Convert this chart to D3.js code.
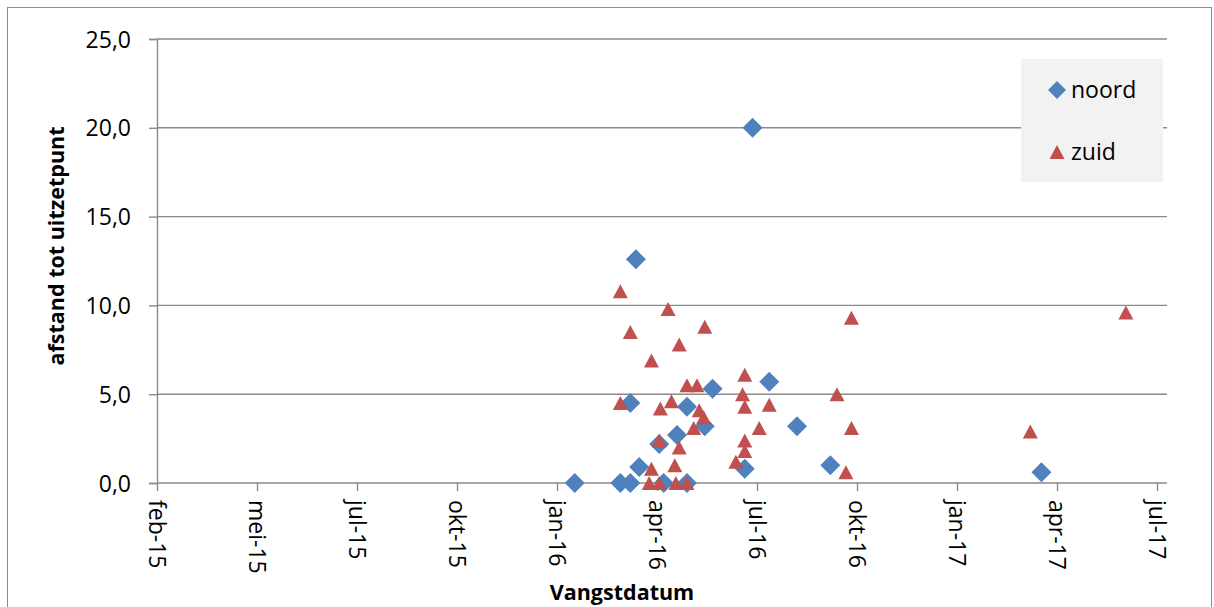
<!DOCTYPE html>
<html>
<head>
<meta charset="utf-8">
<script src="https://cdn.jsdelivr.net/npm/d3@7"></script>
<style>
  html, body { margin: 0; padding: 0; background: #fff; }
  svg { display: block; }
  text { font-family: "Open Sans", "Noto Sans", sans-serif; fill: #000; }
</style>
</head>
<body>
<svg id="chart" width="1214" height="607"></svg>
<script>
// Vangstdatum (catch date) and distance to release point, per side
const noordDates = ["2016-02-12","2016-03-24","2016-04-02","2016-04-02","2016-04-07","2016-04-10",
  "2016-04-28","2016-05-02","2016-05-14","2016-05-23","2016-05-23","2016-06-08","2016-06-15",
  "2016-07-14","2016-07-21","2016-08-05","2016-08-30","2016-09-29","2017-04-07"];
const noordValues = [0.0, 0.0, 0.0, 4.5, 12.6, 0.9, 2.2, 0.0, 2.7, 0.0, 4.3, 3.2, 5.3,
  0.8, 20.0, 5.7, 3.2, 1.0, 0.6];

const zuidDates = ["2016-03-24","2016-05-06","2016-04-02","2016-06-08","2016-05-16","2016-04-21",
  "2016-05-23","2016-06-01","2016-03-24","2016-04-29","2016-05-09","2016-06-03","2016-06-07",
  "2016-05-29","2016-04-28","2016-05-16","2016-04-21","2016-05-12","2016-04-19","2016-04-28",
  "2016-05-13","2016-05-23","2016-07-14","2016-07-12","2016-07-14","2016-08-05","2016-07-27",
  "2016-07-14","2016-07-14","2016-07-06","2016-10-05","2016-10-18","2016-10-13","2016-10-18",
  "2017-03-28","2017-06-22"];
const zuidValues = [10.8, 9.8, 8.5, 8.8, 7.8, 6.9, 5.5, 5.5, 4.5, 4.2, 4.6, 4.1, 3.7,
  3.1, 2.4, 2.0, 0.8, 1.0, 0.0, 0.0, 0.0, 0.0, 6.1, 5.0, 4.3, 4.4, 3.1,
  2.4, 1.8, 1.2, 5.0, 3.1, 0.6, 9.3, 2.9, 9.6];

const seriesNames = ["noord", "zuid"];
const xDomain = ["2015-02-01", "2017-07-29"];
const xTickStart = "2015-02-01";
const xTickStepDays = 90;
const xTickCount = 11;
const yTicks = [0, 5, 10, 15, 20, 25];
const monthNames = ["jan","feb","mrt","apr","mei","jun","jul","aug","sep","okt","nov","dec"];

const parse = d3.utcParse("%Y-%m-%d");
const svg = d3.select("#chart");

const plot = { left: 157, right: 1167, top: 39, bottom: 483 };
const blue = "#4f81bd", red = "#c0504d", gridColor = "#8a8a8a";

// chart area border
svg.append("rect").attr("x", 7.5).attr("y", 7.5).attr("width", 1204).attr("height", 640)
  .attr("fill", "#fff").attr("stroke", "#8c8c8c").attr("stroke-width", 1);

const x = d3.scaleUtc().domain(xDomain.map(parse)).range([plot.left, plot.right]);
const y = d3.scaleLinear().domain([0, 25]).range([plot.bottom, plot.top]);

const xTickValues = d3.range(xTickCount).map(i => d3.utcDay.offset(parse(xTickStart), i * xTickStepDays));
const fmtDate = d => monthNames[d.getUTCMonth()] + "-" + String(d.getUTCFullYear()).slice(2);
const fmtNum = v => v.toFixed(1).replace(".", ",");

// horizontal gridlines
svg.append("g").selectAll("line").data(yTicks.filter(v => v > 0)).join("line")
  .attr("x1", plot.left).attr("x2", plot.right)
  .attr("y1", d => y(d)).attr("y2", d => y(d))
  .attr("stroke", gridColor).attr("stroke-width", 1.4);

// y axis
const yAxis = svg.append("g").attr("transform", `translate(${plot.left},0)`)
  .call(d3.axisLeft(y).tickValues(yTicks).tickFormat(fmtNum).tickSize(8).tickPadding(18));
yAxis.select(".domain").attr("stroke", gridColor).attr("stroke-width", 1.4);
yAxis.selectAll(".tick line").attr("stroke", gridColor).attr("stroke-width", 1.4);
yAxis.selectAll(".tick text").attr("font-size", 23).attr("font-family", "Open Sans")
  .attr("fill", "#000").attr("dy", "0.35em");

// x axis
const xAxis = svg.append("g").attr("transform", `translate(0,${plot.bottom})`)
  .call(d3.axisBottom(x).tickValues(xTickValues).tickFormat(fmtDate).tickSize(8).tickSizeOuter(0));
xAxis.select(".domain").attr("stroke", gridColor).attr("stroke-width", 1.4)
  .attr("d", `M${plot.left},0H${plot.right}`);
xAxis.selectAll(".tick line").attr("stroke", gridColor).attr("stroke-width", 1.4);
xAxis.selectAll(".tick text").attr("font-size", 23).attr("font-family", "Open Sans").attr("fill", "#000")
  .attr("text-anchor", "start").attr("y", 0).attr("dy", "0.35em")
  .attr("transform", "translate(0,17) rotate(90)");

// axis titles
svg.append("text").attr("transform", "translate(64,246) rotate(-90)")
  .attr("text-anchor", "middle").attr("font-size", 21.5).attr("font-weight", "bold")
  .text("afstand tot uitzetpunt");
svg.append("text").attr("x", 622).attr("y", 600)
  .attr("text-anchor", "middle").attr("font-size", 21.5).attr("font-weight", "bold")
  .text("Vangstdatum");

// marker shapes
const diamondPath = r => `M0,${-r}L${r},0L0,${r}L${-r},0Z`;
const trianglePath = (w, h) => `M0,${-h / 2}L${w / 2},${h / 2}L${-w / 2},${h / 2}Z`;

const noord = noordDates.map((d, i) => ({ date: parse(d), value: noordValues[i] }));
const zuid = zuidDates.map((d, i) => ({ date: parse(d), value: zuidValues[i] }));

svg.append("g").selectAll("path").data(noord).join("path")
  .attr("transform", d => `translate(${x(d.date)},${y(d.value)})`)
  .attr("d", diamondPath(10)).attr("fill", blue);

svg.append("g").selectAll("path").data(zuid).join("path")
  .attr("transform", d => `translate(${x(d.date)},${y(d.value)})`)
  .attr("d", trianglePath(15, 14)).attr("fill", red);

// legend
const legend = svg.append("g");
legend.append("rect").attr("x", 1021).attr("y", 59).attr("width", 142).attr("height", 123)
  .attr("fill", "#f2f2f2");
legend.append("path").attr("transform", "translate(1057,90)").attr("d", diamondPath(9)).attr("fill", blue);
legend.append("path").attr("transform", "translate(1057,152)").attr("d", trianglePath(15, 14)).attr("fill", red);
legend.append("text").attr("x", 1071).attr("y", 98).attr("font-size", 23).text(seriesNames[0]);
legend.append("text").attr("x", 1071).attr("y", 160).attr("font-size", 23).text(seriesNames[1]);
</script>
</body>
</html>
